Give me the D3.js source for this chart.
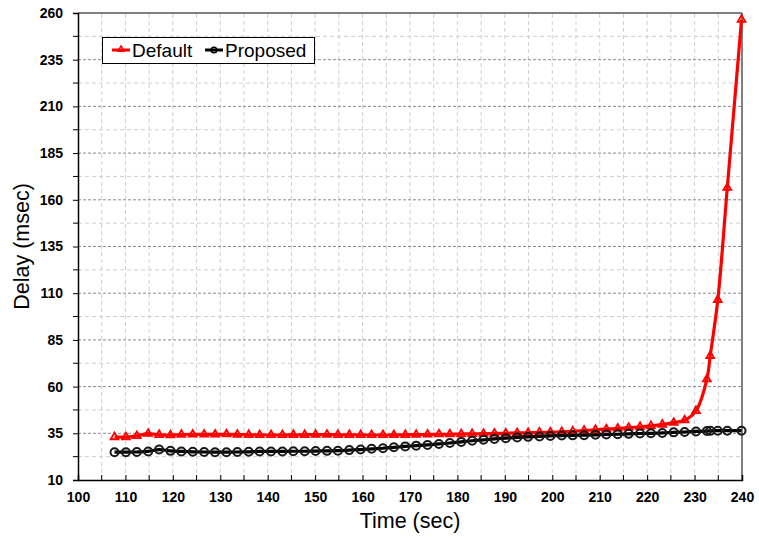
<!DOCTYPE html>
<html>
<head>
<meta charset="utf-8">
<script src="https://cdn.jsdelivr.net/npm/d3@7"></script>
<style>
  body { margin: 0; background: #fff; }
  svg { display: block; font-family: "Liberation Sans", Arial, sans-serif; }
</style>
</head>
<body>
<script>
// valores
const timeSec = [107.7, 110.1, 112.4, 114.8, 117.1, 119.5, 121.8, 124.2, 126.6, 128.9,
  131.3, 133.6, 136.0, 138.3, 140.7, 143.1, 145.4, 147.8, 150.1, 152.5,
  154.8, 157.2, 159.6, 161.9, 164.3, 166.6, 169.0, 171.3, 173.7, 176.1,
  178.4, 180.8, 183.1, 185.5, 187.8, 190.2, 192.6, 194.9, 197.3, 199.6,
  202.0, 204.3, 206.7, 209.1, 211.4, 213.8, 216.1, 218.5, 220.8, 223.2,
  225.6, 227.9, 230.3, 232.6, 233.3, 234.9, 236.9, 239.9];

const defaultDelay = [33.0, 33.0, 33.6, 34.8, 34.2, 34.0, 34.3, 34.4, 34.4, 34.4,
  34.5, 34.3, 34.2, 34.1, 34.1, 34.1, 34.2, 34.2, 34.3, 34.3,
  34.2, 34.2, 34.1, 34.1, 34.1, 34.1, 34.2, 34.3, 34.4, 34.5,
  34.5, 34.6, 34.7, 34.8, 34.9, 35.0, 35.2, 35.3, 35.5, 35.6,
  35.8, 36.1, 36.5, 36.9, 37.2, 37.6, 38.0, 38.5, 39.0, 39.7,
  40.7, 42.0, 47.0, 64.0, 76.5, 106.5, 166.5, 256.5];

const proposedDelay = [24.9, 24.9, 25.0, 25.3, 26.3, 25.6, 25.3, 25.1, 25.0, 24.9,
  24.9, 25.0, 25.1, 25.3, 25.3, 25.3, 25.4, 25.4, 25.5, 25.6,
  25.7, 26.0, 26.3, 26.7, 27.0, 27.5, 28.0, 28.4, 28.8, 29.3,
  29.8, 30.4, 31.0, 31.5, 32.0, 32.4, 32.8, 33.1, 33.3, 33.6,
  33.8, 33.9, 34.0, 34.2, 34.4, 34.5, 34.7, 34.9, 35.0, 35.2,
  35.5, 35.7, 36.0, 36.2, 36.3, 36.4, 36.4, 36.4];

const xTicks = [100, 110, 120, 130, 140, 150, 160, 170, 180, 190, 200, 210, 220, 230, 240];
const xMinor = [105, 115, 125, 135, 145, 155, 165, 175, 185, 195, 205, 215, 225, 235];
const yTicks = [10, 35, 60, 85, 110, 135, 160, 185, 210, 235, 260];
const yMinor = [22.5, 47.5, 72.5, 97.5, 122.5, 147.5, 172.5, 197.5, 222.5, 247.5];

const width = 759;
const height = 538;
const margin = { left: 78, right: 17, top: 13, bottom: 58 };

const svg = d3.select("body").append("svg")
  .attr("width", width)
  .attr("height", height);

const x = d3.scaleLinear().domain([100, 240]).range([margin.left, width - margin.right]);
const y = d3.scaleLinear().domain([10, 260]).range([height - margin.bottom, margin.top]);

// rejilla
const grid = svg.append("g");
grid.selectAll(".vg").data(xMinor.concat(xTicks.slice(1, -1))).enter().append("line")
  .attr("x1", d => x(d)).attr("x2", d => x(d))
  .attr("y1", y(10)).attr("y2", y(260))
  .attr("stroke", "#cfcfcf").attr("stroke-dasharray", "4,3");
grid.selectAll(".hm").data(yMinor).enter().append("line")
  .attr("x1", x(100)).attr("x2", x(240))
  .attr("y1", d => y(d)).attr("y2", d => y(d))
  .attr("stroke", "#cfcfcf").attr("stroke-dasharray", "4,3");
grid.selectAll(".hg").data(yTicks.slice(1, -1)).enter().append("line")
  .attr("x1", x(100)).attr("x2", x(240))
  .attr("y1", d => y(d)).attr("y2", d => y(d))
  .attr("stroke", "#8a8a8a").attr("stroke-dasharray", "3,2");

// marco
svg.append("line").attr("x1", x(100)).attr("x2", x(240)).attr("y1", y(260)).attr("y2", y(260))
  .attr("stroke", "#000").attr("stroke-width", 1);
svg.append("line").attr("x1", x(240)).attr("x2", x(240)).attr("y1", y(260)).attr("y2", y(10))
  .attr("stroke", "#000").attr("stroke-width", 1);

// ejes
const ejeX = d3.axisBottom(x).tickValues(xTicks).tickSize(-5).tickPadding(12).tickFormat(d3.format("d"));
const gx = svg.append("g")
  .attr("transform", "translate(0," + y(10) + ")")
  .call(ejeX);
gx.selectAll(".tick").filter(d => d === 240).select("line").remove();
gx.selectAll(".tick text").attr("font-size", 14).attr("font-weight", "bold").attr("fill", "#000");
gx.select(".domain").attr("stroke-width", 1.5);
svg.append("g").selectAll("line").data(xMinor).enter().append("line")
  .attr("x1", d => x(d)).attr("x2", d => x(d))
  .attr("y1", y(10)).attr("y2", y(10) - 5).attr("stroke", "#000");

const ejeY = d3.axisLeft(y).tickValues(yTicks).tickSize(5).tickPadding(10);
const gy = svg.append("g")
  .attr("transform", "translate(" + x(100) + ",0)")
  .call(ejeY);
gy.selectAll(".tick text").attr("font-size", 14).attr("font-weight", "bold").attr("fill", "#000");
gy.select(".domain").attr("stroke-width", 1.5);
svg.append("g").selectAll("line").data(yMinor).enter().append("line")
  .attr("x1", x(100)).attr("x2", x(100) - 5)
  .attr("y1", d => y(d)).attr("y2", d => y(d)).attr("stroke", "#000");

// titulos
svg.append("text")
  .attr("x", (x(100) + x(240)) / 2).attr("y", 528)
  .attr("text-anchor", "middle").attr("font-size", 21.5)
  .text("Time (sec)");
svg.append("text")
  .attr("transform", "translate(29," + ((y(10) + y(260)) / 2) + ") rotate(-90)")
  .attr("text-anchor", "middle").attr("font-size", 21.5)
  .text("Delay (msec)");

// series
const linea = (vals) => d3.line()
  .x((d, i) => x(timeSec[i]))
  .y(d => y(d))
  .curve(d3.curveCatmullRom.alpha(0.5))(vals);

const tri = d3.symbol().type(d3.symbolTriangle).size(26);

svg.append("path").attr("d", linea(defaultDelay))
  .attr("fill", "none").attr("stroke", "#ff0000").attr("stroke-width", 3.2);
svg.append("g").selectAll("path").data(defaultDelay).enter().append("path")
  .attr("d", tri)
  .attr("transform", (d, i) => "translate(" + x(timeSec[i]) + "," + y(d) + ")")
  .attr("fill", "none").attr("stroke", "#ff0000").attr("stroke-width", 1.8);

svg.append("path").attr("d", linea(proposedDelay))
  .attr("fill", "none").attr("stroke", "#000").attr("stroke-width", 3.2);
svg.append("g").selectAll("circle").data(proposedDelay).enter().append("circle")
  .attr("cx", (d, i) => x(timeSec[i])).attr("cy", d => y(d)).attr("r", 4)
  .attr("fill", "none").attr("stroke", "#1a1a1a").attr("stroke-width", 2);

// leyenda
const leg = svg.append("g");
leg.append("rect").attr("x", 102.5).attr("y", 37.5).attr("width", 212).attr("height", 26)
  .attr("fill", "#fff").attr("stroke", "#000").attr("stroke-width", 1);
leg.append("line").attr("x1", 112).attr("x2", 130).attr("y1", 50).attr("y2", 50)
  .attr("stroke", "#ff0000").attr("stroke-width", 3);
leg.append("path").attr("d", d3.symbol().type(d3.symbolTriangle).size(16)).attr("transform", "translate(121,49.5)")
  .attr("fill", "none").attr("stroke", "#ff0000").attr("stroke-width", 1.5);
leg.append("text").attr("x", 132).attr("y", 57).attr("font-size", 19).text("Default");
leg.append("line").attr("x1", 205).attr("x2", 223).attr("y1", 50).attr("y2", 50)
  .attr("stroke", "#000").attr("stroke-width", 3);
leg.append("circle").attr("cx", 214).attr("cy", 50).attr("r", 2.8)
  .attr("fill", "none").attr("stroke", "#000").attr("stroke-width", 1.5);
leg.append("text").attr("x", 225).attr("y", 57).attr("font-size", 19).text("Proposed");
</script>
</body>
</html>
